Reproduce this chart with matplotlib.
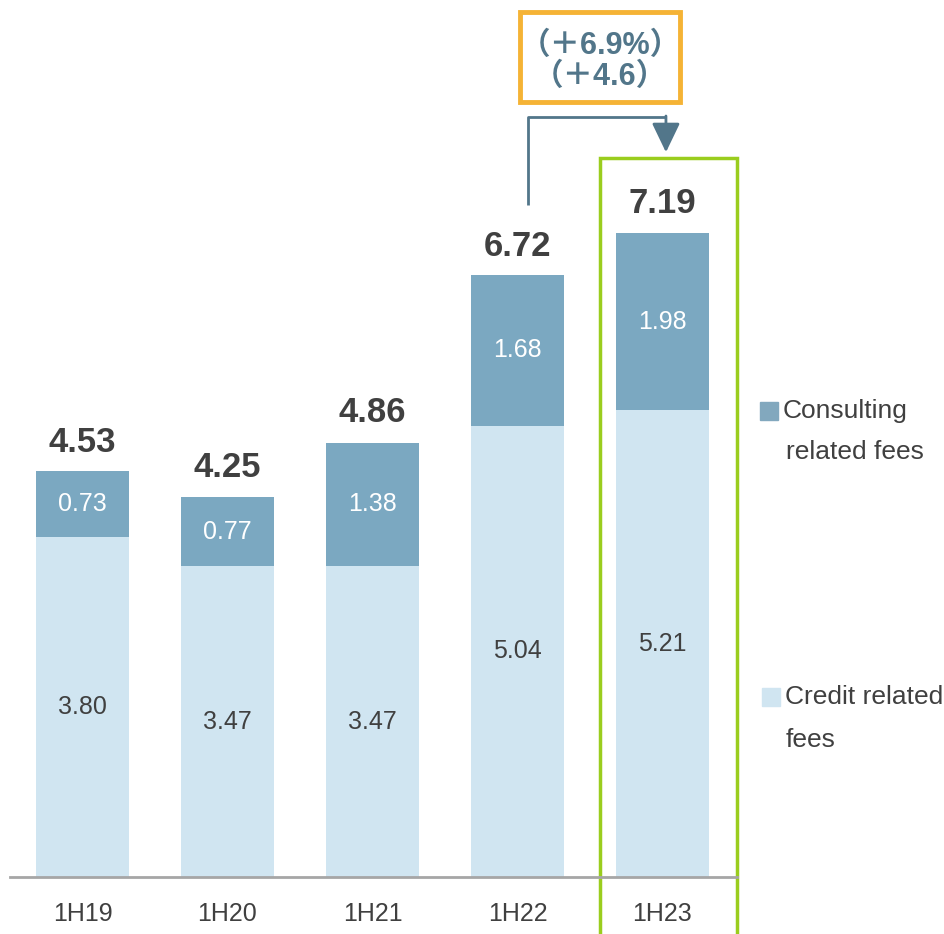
import matplotlib.pyplot as plt
from matplotlib.patches import Rectangle

# Data
periods = ["1H19", "1H20", "1H21", "1H22", "1H23"]
credit = [3.80, 3.47, 3.47, 5.04, 5.21]
consulting = [0.73, 0.77, 1.38, 1.68, 1.98]
totals = [4.53, 4.25, 4.86, 6.72, 7.19]
change_labels = ["（＋6.9%）", "（＋4.6）"]

c_consult = "#7BA8C1"
c_credit = "#D0E5F1"
c_text = "#404040"
c_arrow = "#52768A"

plt.rcParams["font.family"] = ["Liberation Sans", "Noto Sans CJK JP", "DejaVu Sans"]

W, H = 945, 934
fig = plt.figure(figsize=(W / 100, H / 100), dpi=100)
ax = fig.add_axes([10 / W, 57 / H, 727 / W, 877 / H])
ax.set_xlim(-0.5, 4.514)
ax.set_ylim(0, 9.79)

x = range(len(periods))
ax.bar(x, credit, width=0.64, color=c_credit)
ax.bar(x, consulting, width=0.64, bottom=credit, color=c_consult)

# value labels
for i in x:
    ax.text(i, credit[i] / 2, f"{credit[i]:.2f}", ha="center", va="center",
            fontsize=18, color=c_text)
    ax.text(i, credit[i] + consulting[i] / 2, f"{consulting[i]:.2f}",
            ha="center", va="center", fontsize=18, color="white")
    ax.annotate(f"{totals[i]:.2f}", (i, totals[i]), xytext=(0, 9),
                textcoords="offset points", ha="center", va="bottom",
                fontsize=25, fontweight="bold", color=c_text)

# axes styling
for s in ["top", "right", "left"]:
    ax.spines[s].set_visible(False)
ax.spines["bottom"].set_color("#A6A6A6")
ax.spines["bottom"].set_linewidth(2)
ax.set_yticks([])
ax.set_xticks(list(x))
ax.set_xticklabels(periods, fontsize=18, color=c_text)
ax.tick_params(axis="x", length=0, pad=18)

# green highlight frame around 1H23
ax.add_patch(Rectangle((3.569, -0.7), 0.945, 8.73, fill=False,
                       edgecolor="#9ACD1E", linewidth=2.5, clip_on=False))

# orange box with change text
ax.add_patch(Rectangle((3.017, 8.65), 1.103, 1.005, fill=False,
                       edgecolor="#F5B335", linewidth=3.5, clip_on=False))
ax.text(3.57, 9.28, change_labels[0], ha="center", va="center", fontsize=22,
        fontweight="bold", color=c_arrow)
ax.text(3.57, 8.93, change_labels[1], ha="center", va="center", fontsize=22,
        fontweight="bold", color=c_arrow)

# connector arrow 1H22 -> 1H23
ax.plot([3.072, 3.072, 4.024], [7.50, 8.485, 8.485], color=c_arrow,
        linewidth=2, clip_on=False, solid_capstyle="butt")
ax.annotate("", xy=(4.024, 8.09), xytext=(4.024, 8.495),
            arrowprops=dict(arrowstyle="-|>,head_length=1.0,head_width=0.48",
                            mutation_scale=18, color=c_arrow, linewidth=2,
                            shrinkA=0, shrinkB=0),
            annotation_clip=False)

# legend
fig.patches.append(Rectangle((760 / W, 1 - 420 / H), 18 / W, 18 / H,
                             transform=fig.transFigure, color="#82A8BE"))
fig.text(783 / W, 1 - 411 / H, "Consulting", fontsize=19, color=c_text, va="center")
fig.text(786 / W, 1 - 452 / H, "related fees", fontsize=19, color=c_text, va="center")
fig.patches.append(Rectangle((762 / W, 1 - 706 / H), 18 / W, 18 / H,
                             transform=fig.transFigure, color=c_credit))
fig.text(785 / W, 1 - 697 / H, "Credit related", fontsize=19, color=c_text, va="center")
fig.text(786 / W, 1 - 740 / H, "fees", fontsize=19, color=c_text, va="center")

fig.savefig("out.png", dpi=100)
